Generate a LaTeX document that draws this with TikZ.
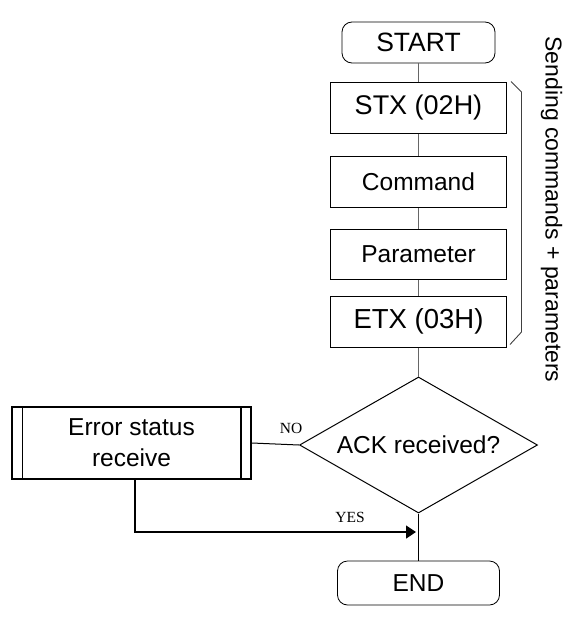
\documentclass[tikz,border=0pt]{standalone}
\usepackage{fontspec}
\setmainfont{Liberation Sans}
\newfontfamily\serifxx{Liberation Serif}
\usetikzlibrary{shapes.geometric,arrows.meta,calc}
\begin{document}
\begin{tikzpicture}[x=1pt,y=-1pt,
  txt/.style={font=\fontsize{24.5}{31}\selectfont},
  stepbox/.style={draw=black,line width=1pt,rectangle,inner sep=0pt,minimum width=176pt,minimum height=51pt,txt},
  termbox/.style={draw=black,line width=0.8pt,rectangle,rounded corners=10pt,inner sep=0pt,txt},
  conn/.style={draw=black!60,line width=1pt},
  lbl/.style={font=\serifxx\fontsize{15.5}{18}\selectfont,inner sep=0pt}]
\useasboundingbox (0,0) rectangle (573,618);
\node[termbox,minimum width=153pt,minimum height=41pt,font=\fontsize{26.5}{31}\selectfont] (start) at (418.5,42.5) {START};
\node[stepbox,font=\fontsize{27}{31}\selectfont] (stx) at (418.5,107.5) {STX (02H)};
\node[stepbox] (cmd) at (418.5,182) {Command};
\node[stepbox,minimum height=50pt] (par) at (418.5,254.5) {Parameter};
\node[stepbox,font=\fontsize{27.5}{31}\selectfont] (etx) at (418.5,321.5) {ETX (03H)};
\node[draw=black,line width=1pt,diamond,aspect=1.75,inner sep=0pt,minimum width=238pt,minimum height=136pt,txt] (dia) at (418.5,445) {ACK received?};
\node[draw=black,line width=1.5pt,rectangle,inner sep=0pt,minimum width=239pt,minimum height=72pt,txt,align=center] (err) at (131.5,443) {Error status\\receive};
\draw[line width=1.5pt] ([xshift=11pt]err.north west) -- ([xshift=11pt]err.south west);
\draw[line width=1.5pt] ([xshift=-11pt]err.north east) -- ([xshift=-11pt]err.south east);
\node[termbox,minimum width=162pt,minimum height=44pt] (end) at (418.5,583) {END};
\draw[conn] (start) -- (stx);
\draw[conn] (stx) -- (cmd);
\draw[conn] (cmd) -- (par);
\draw[conn] (par) -- (etx);
\draw[conn] (etx) -- (dia);
\draw[line width=1pt] (dia.south) -- (end.north);
\draw[line width=1pt] (err.east) -- (dia.west);
\coordinate (errb) at ($(err.south)+(3.5,0)$);
\coordinate (yes) at (416,532);
\draw[line width=1.3pt,-{Triangle[length=10pt,width=13pt]}] (errb) |- (yes);
\node[lbl] (nolbl) at (291,428) {NO};
\node[lbl] (yeslbl) at (350,517) {YES};
\coordinate (b1) at ($(stx.north east)+(4,0)$);
\coordinate (b2) at (521.5,92);
\coordinate (b3) at (521.5,332);
\coordinate (b4) at ($(etx.south east)+(3,-3)$);
\draw[black!75,line width=0.9pt] (b1) -- (b2) -- (b3) -- (b4);
\node[font=\fontsize{23}{28}\selectfont,rotate=-90,inner sep=0pt] (side) at (551.5,209.5) {Sending commands + parameters};
\end{tikzpicture}
\end{document}
